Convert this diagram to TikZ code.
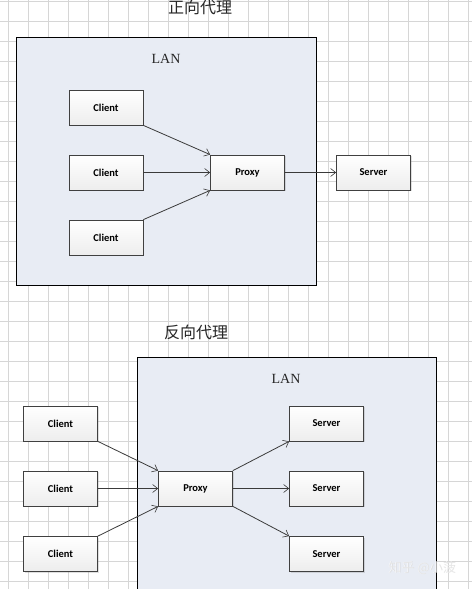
\documentclass[tikz,border=0pt]{standalone}
\usepackage{fontspec}
\setmainfont{Liberation Serif}
\newfontfamily\cjk{Noto Sans CJK SC}
\newfontfamily\boxfont{Carlito}
\usetikzlibrary{arrows.meta,shadows}
\definecolor{lanfill}{HTML}{E8ECF4}
\definecolor{gridc}{HTML}{D6D6D6}
\definecolor{linec}{HTML}{3A3A3A}
\tikzset{
  boxnode/.style={draw=black!75, line width=0.8pt, minimum width=74pt, minimum height=35pt,
    inner sep=0pt, top color=white, bottom color=gray!14,
    drop shadow={shadow xshift=1.2pt, shadow yshift=-1.2pt, opacity=0.25},
    font=\boxfont\bfseries\fontsize{10.5}{12}\selectfont},
  lanbox/.style={draw=black, line width=0.9pt, fill=lanfill},
  conn/.style={draw=linec, line width=0.8pt, -{Straight Barb[length=5pt,width=8pt,line width=0.6pt]}},
  titlet/.style={font=\cjk\fontsize{16}{18}\selectfont, text=black!85},
  lanlabel/.style={font=\fontsize{14}{16}\selectfont, text=black!85}
}
\begin{document}
\begin{tikzpicture}[x=1pt,y=-1pt]
\useasboundingbox (0,0) rectangle (472,589);
\fill[white] (0,0) rectangle (472,589);
% grid
\foreach \gx in {8.3,28.3,...,470} {\draw[gridc, line width=0.6pt] (\gx,0) -- (\gx,589);}
\foreach \gy in {1.7,21.7,...,589} {\draw[gridc, line width=0.6pt] (0,\gy) -- (472,\gy);}

% ---------- forward proxy ----------
\node[titlet] (t1) at (200,7) {正向代理};
\draw[lanbox] (16,37) rectangle (316,285);
\node[lanlabel] (lan1) at (166,59) {LAN};
\node[boxnode] (c1) at (106,107.5) {Client};
\node[boxnode] (c2) at (106,172.5) {Client};
\node[boxnode] (c3) at (106,237.5) {Client};
\node[boxnode] (p1) at (247.5,172.5) {Proxy};
\node[boxnode] (s1) at (373.5,172.5) {Server};
\draw[conn] (c1.south east) -- (p1.north west);
\draw[conn] (c2.east) -- (p1.west);
\draw[conn] (c3.north east) -- (p1.south west);
\draw[conn] (p1.east) -- (s1.west);

% ---------- reverse proxy ----------
\node[titlet] (t2) at (196,332) {反向代理};
\draw[lanbox] (137,589.5) -- (137,357) -- (436,357) -- (436,589.5);
\fill[lanfill] (137.5,357.5) rectangle (435.5,589);
\node[lanlabel] (lan2) at (286,379) {LAN};
\node[boxnode] (d1) at (60.5,423.5) {Client};
\node[boxnode] (d2) at (60.5,488.5) {Client};
\node[boxnode] (d3) at (60.5,554) {Client};
\node[boxnode] (p2) at (195.5,488.5) {Proxy};
\node[boxnode] (e1) at (326.5,423.5) {Server};
\node[boxnode] (e2) at (326.5,488.5) {Server};
\node[boxnode] (e3) at (326.5,554) {Server};
\draw[conn] (d1.south east) -- (p2.north west);
\draw[conn] (d2.east) -- (p2.west);
\draw[conn] (d3.north east) -- (p2.south west);
\draw[conn] (p2.north east) -- (e1.south west);
\draw[conn] (p2.east) -- (e2.west);
\draw[conn] (p2.south east) -- (e3.north west);

% watermark
\node[font=\cjk\fontsize{13}{15}\selectfont, text=white, draw=none] (wm) at (422,568) {知乎 @小菠};
\node[font=\cjk\fontsize{13}{15}\selectfont, text=gray!40, opacity=0.5] at (422.4,568.4) {知乎 @小菠};
\end{tikzpicture}
\end{document}
